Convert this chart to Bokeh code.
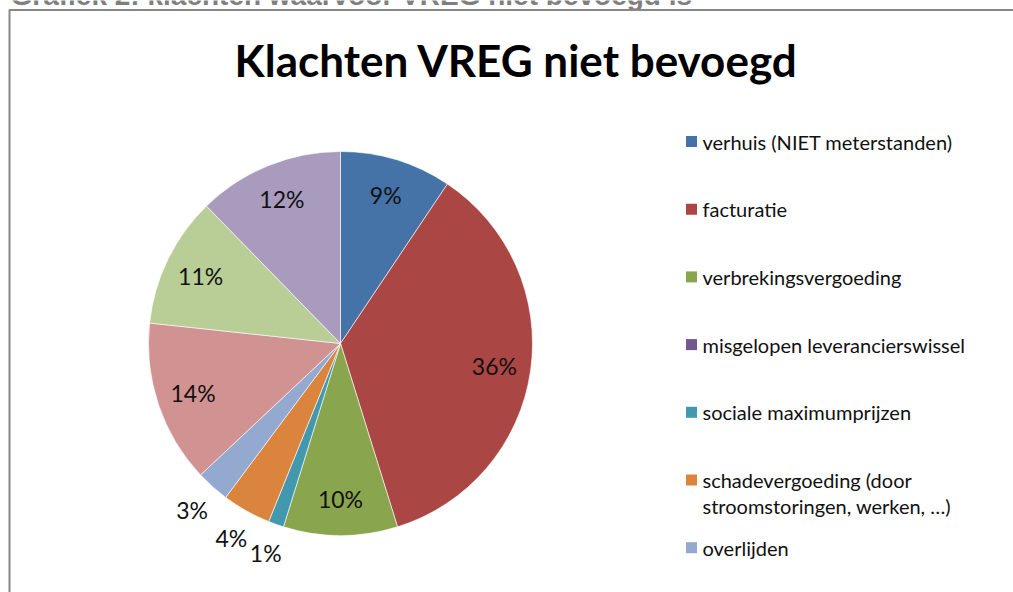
import math
from bokeh.plotting import figure
from bokeh.models import Range1d
from bokeh.embed import file_html
from bokeh.resources import INLINE
from bokeh.core.properties import value

# ---------------- data ----------------
header_text = "Grafiek 2: klachten waarvoor VREG niet bevoegd is"
chart_title = "Klachten VREG niet bevoegd"

# slices in clockwise order from 12 o'clock (share in %)
slice_names = [
    "verhuis (NIET meterstanden)",
    "facturatie",
    "verbrekingsvergoeding",
    "misgelopen leverancierswissel",
    "sociale maximumprijzen",
    "schadevergoeding (door stroomstoringen, werken, …)",
    "overlijden",
    "categorie 8",
    "categorie 9",
    "categorie 10",
]
slice_values = [9.4, 35.8, 9.6, 0.0, 1.3, 4.1, 2.8, 13.7, 11.0, 12.3]
slice_colors = ["#4572A7", "#AA4643", "#89A54E", "#71588F", "#4198AF",
                "#DB843D", "#93A9CF", "#D19392", "#B9CD96", "#A99BBD"]

# legend entries visible in the picture (others fall outside the window)
legend_lines = [
    ["verhuis (NIET meterstanden)"],
    ["facturatie"],
    ["verbrekingsvergoeding"],
    ["misgelopen leverancierswissel"],
    ["sociale maximumprijzen"],
    ["schadevergoeding (door", "stroomstoringen, werken, …)"],
    ["overlijden"],
]

# ---------------- layout ----------------
W, H = 1013, 592
FONT = "Lato"

def py(y):  # pixel-from-top -> data y
    return H - y

p = figure(width=W, height=H, x_range=Range1d(0, W), y_range=Range1d(0, H),
           output_backend="svg", toolbar_location=None,
           x_axis_type=None, y_axis_type=None, min_border=0,
           outline_line_color=None, background_fill_color="white",
           border_fill_color="white")
p.grid.visible = False

# header (cut off at top of window, as in the source page)
p.text(x=[10], y=[py(-5.5)], text=[header_text], text_font=value("Liberation Sans"),
       text_font_style="bold", text_font_size="28px", text_color="#7f7f7f",
       text_baseline="middle", text_align="left")

# frame
p.line(x=[9, 9, W + 5], y=[py(H + 5), py(9.5), py(9.5)], line_color="#878787", line_width=2)

# title
p.text(x=[516], y=[py(59)], text=[chart_title], text_font=value(FONT),
       text_font_style="bold", text_font_size="44px", text_color="#000000",
       text_baseline="middle", text_align="center")

# pie
cx, cy, R = 340, py(343), 192
total = sum(slice_values)
starts, ends, cols, lx, ly, lt = [], [], [], [], [], []
cum = 0.0
for v, c in zip(slice_values, slice_colors):
    a0 = math.pi / 2 - 2 * math.pi * cum / total
    a1 = math.pi / 2 - 2 * math.pi * (cum + v) / total
    mid = (a0 + a1) / 2
    if v > 0:
        starts.append(a0); ends.append(a1); cols.append(c)
        rr = R * (0.81 if v >= 5 else 1.16)
        lx.append(cx + rr * math.cos(mid)); ly.append(cy + rr * math.sin(mid))
        lt.append(f"{round(v / total * 100)}%")
    cum += v

p.wedge(x=cx, y=cy, radius=R, start_angle=starts, end_angle=ends,
        direction="clock", fill_color=cols, line_color="white", line_width=0.6)
p.text(x=lx, y=ly, text=lt, text_font=value(FONT), text_font_size="23px",
       text_color="#111111", text_align="center", text_baseline="middle")

# legend
leg_x, leg_y0, leg_step, line_h, sq = 691, 141, 67.7, 26, 11
for i, lines in enumerate(legend_lines):
    yc = leg_y0 + i * leg_step
    p.rect(x=[leg_x], y=[py(yc)], width=sq, height=sq, fill_color=slice_colors[i],
           line_color=None)
    for j, t in enumerate(lines):
        p.text(x=[leg_x + 11], y=[py(yc + j * line_h)], text=[t], text_font=value(FONT),
               text_font_size="20px", text_color="#111111", text_align="left",
               text_baseline="middle")

open("out.html", "w").write(file_html(p, INLINE))
